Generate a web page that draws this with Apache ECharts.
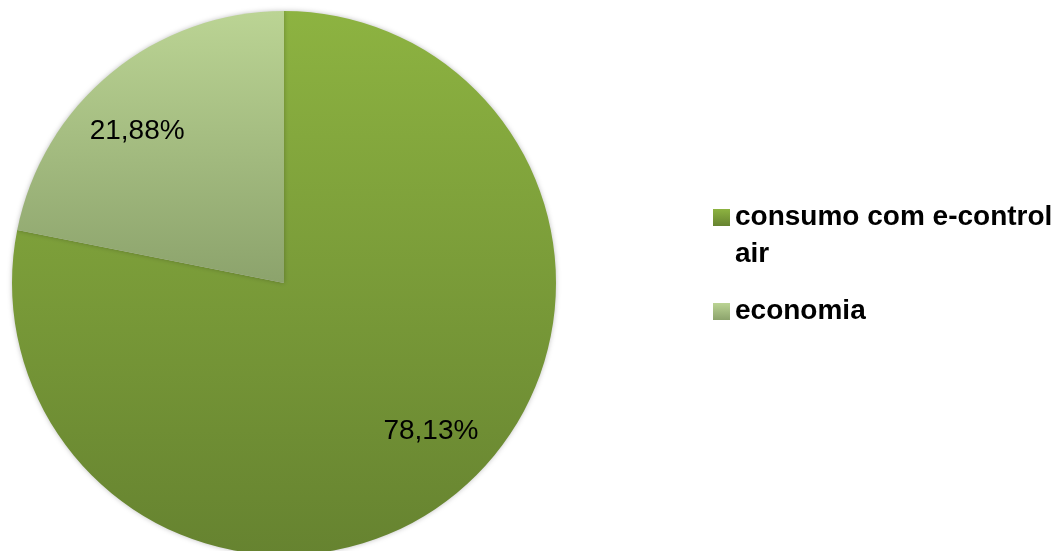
<!DOCTYPE html>
<html>
<head>
<meta charset="utf-8">
<style>
html,body{margin:0;padding:0;background:#fff;}
#chart{width:1058px;height:551px;}
</style>
<script src="https://cdn.jsdelivr.net/npm/echarts@6/dist/echarts.min.js"></script>
</head>
<body>
<div id="chart"></div>
<script>
var categories = ['consumo com e-control air', 'economia'];
var legendLabels = ['\nconsumo com e-control\nair', 'economia'];
var values = [78.13, 21.88];
var topColors = ['#8DB341', '#BBD494'];
var bottomColors = ['#668330', '#8CA36C'];

function grad(i) {
  return new echarts.graphic.LinearGradient(0, 0, 0, 1, [
    {offset: 0, color: topColors[i]},
    {offset: 1, color: bottomColors[i]}
  ]);
}

var mainData = categories.map(function (c, i) {
  return {name: c, value: values[i], itemStyle: {color: grad(i)}};
});
var labelData = categories.map(function (c, i) {
  return {name: c, value: values[i]};
});

var chart = echarts.init(document.getElementById('chart'));
chart.setOption({
  animation: false,
  legend: {
    orient: 'vertical',
    left: 713,
    top: 162,
    padding: 0,
    itemGap: 20,
    itemWidth: 17,
    itemHeight: 17,
    icon: 'rect',
    selectedMode: false,
    formatter: function (name) {
      return legendLabels[categories.indexOf(name)];
    },
    textStyle: {
      fontFamily: 'Liberation Sans, Arial, sans-serif',
      fontWeight: 'bold',
      fontSize: 28,
      lineHeight: 37,
      color: '#000'
    },
    data: categories
  },
  series: [
    {
      type: 'pie',
      center: [284, 283],
      radius: [0, 272],
      startAngle: 90,
      clockwise: true,
      silent: true,
      label: {show: false},
      labelLine: {show: false},
      itemStyle: {shadowBlur: 5, shadowColor: 'rgba(0,0,0,0.25)'},
      data: mainData
    },
    {
      type: 'pie',
      center: [284, 281],
      radius: [0, 414],
      startAngle: 95,
      clockwise: true,
      silent: true,
      itemStyle: {color: 'rgba(0,0,0,0)'},
      labelLine: {show: false},
      label: {
        show: true,
        position: 'inside',
        fontFamily: 'Liberation Sans, Arial, sans-serif',
        fontSize: 28,
        color: '#000',
        formatter: function (p) {
          return p.value.toFixed(2).replace('.', ',') + '%';
        }
      },
      data: labelData
    }
  ]
});
</script>
</body>
</html>
